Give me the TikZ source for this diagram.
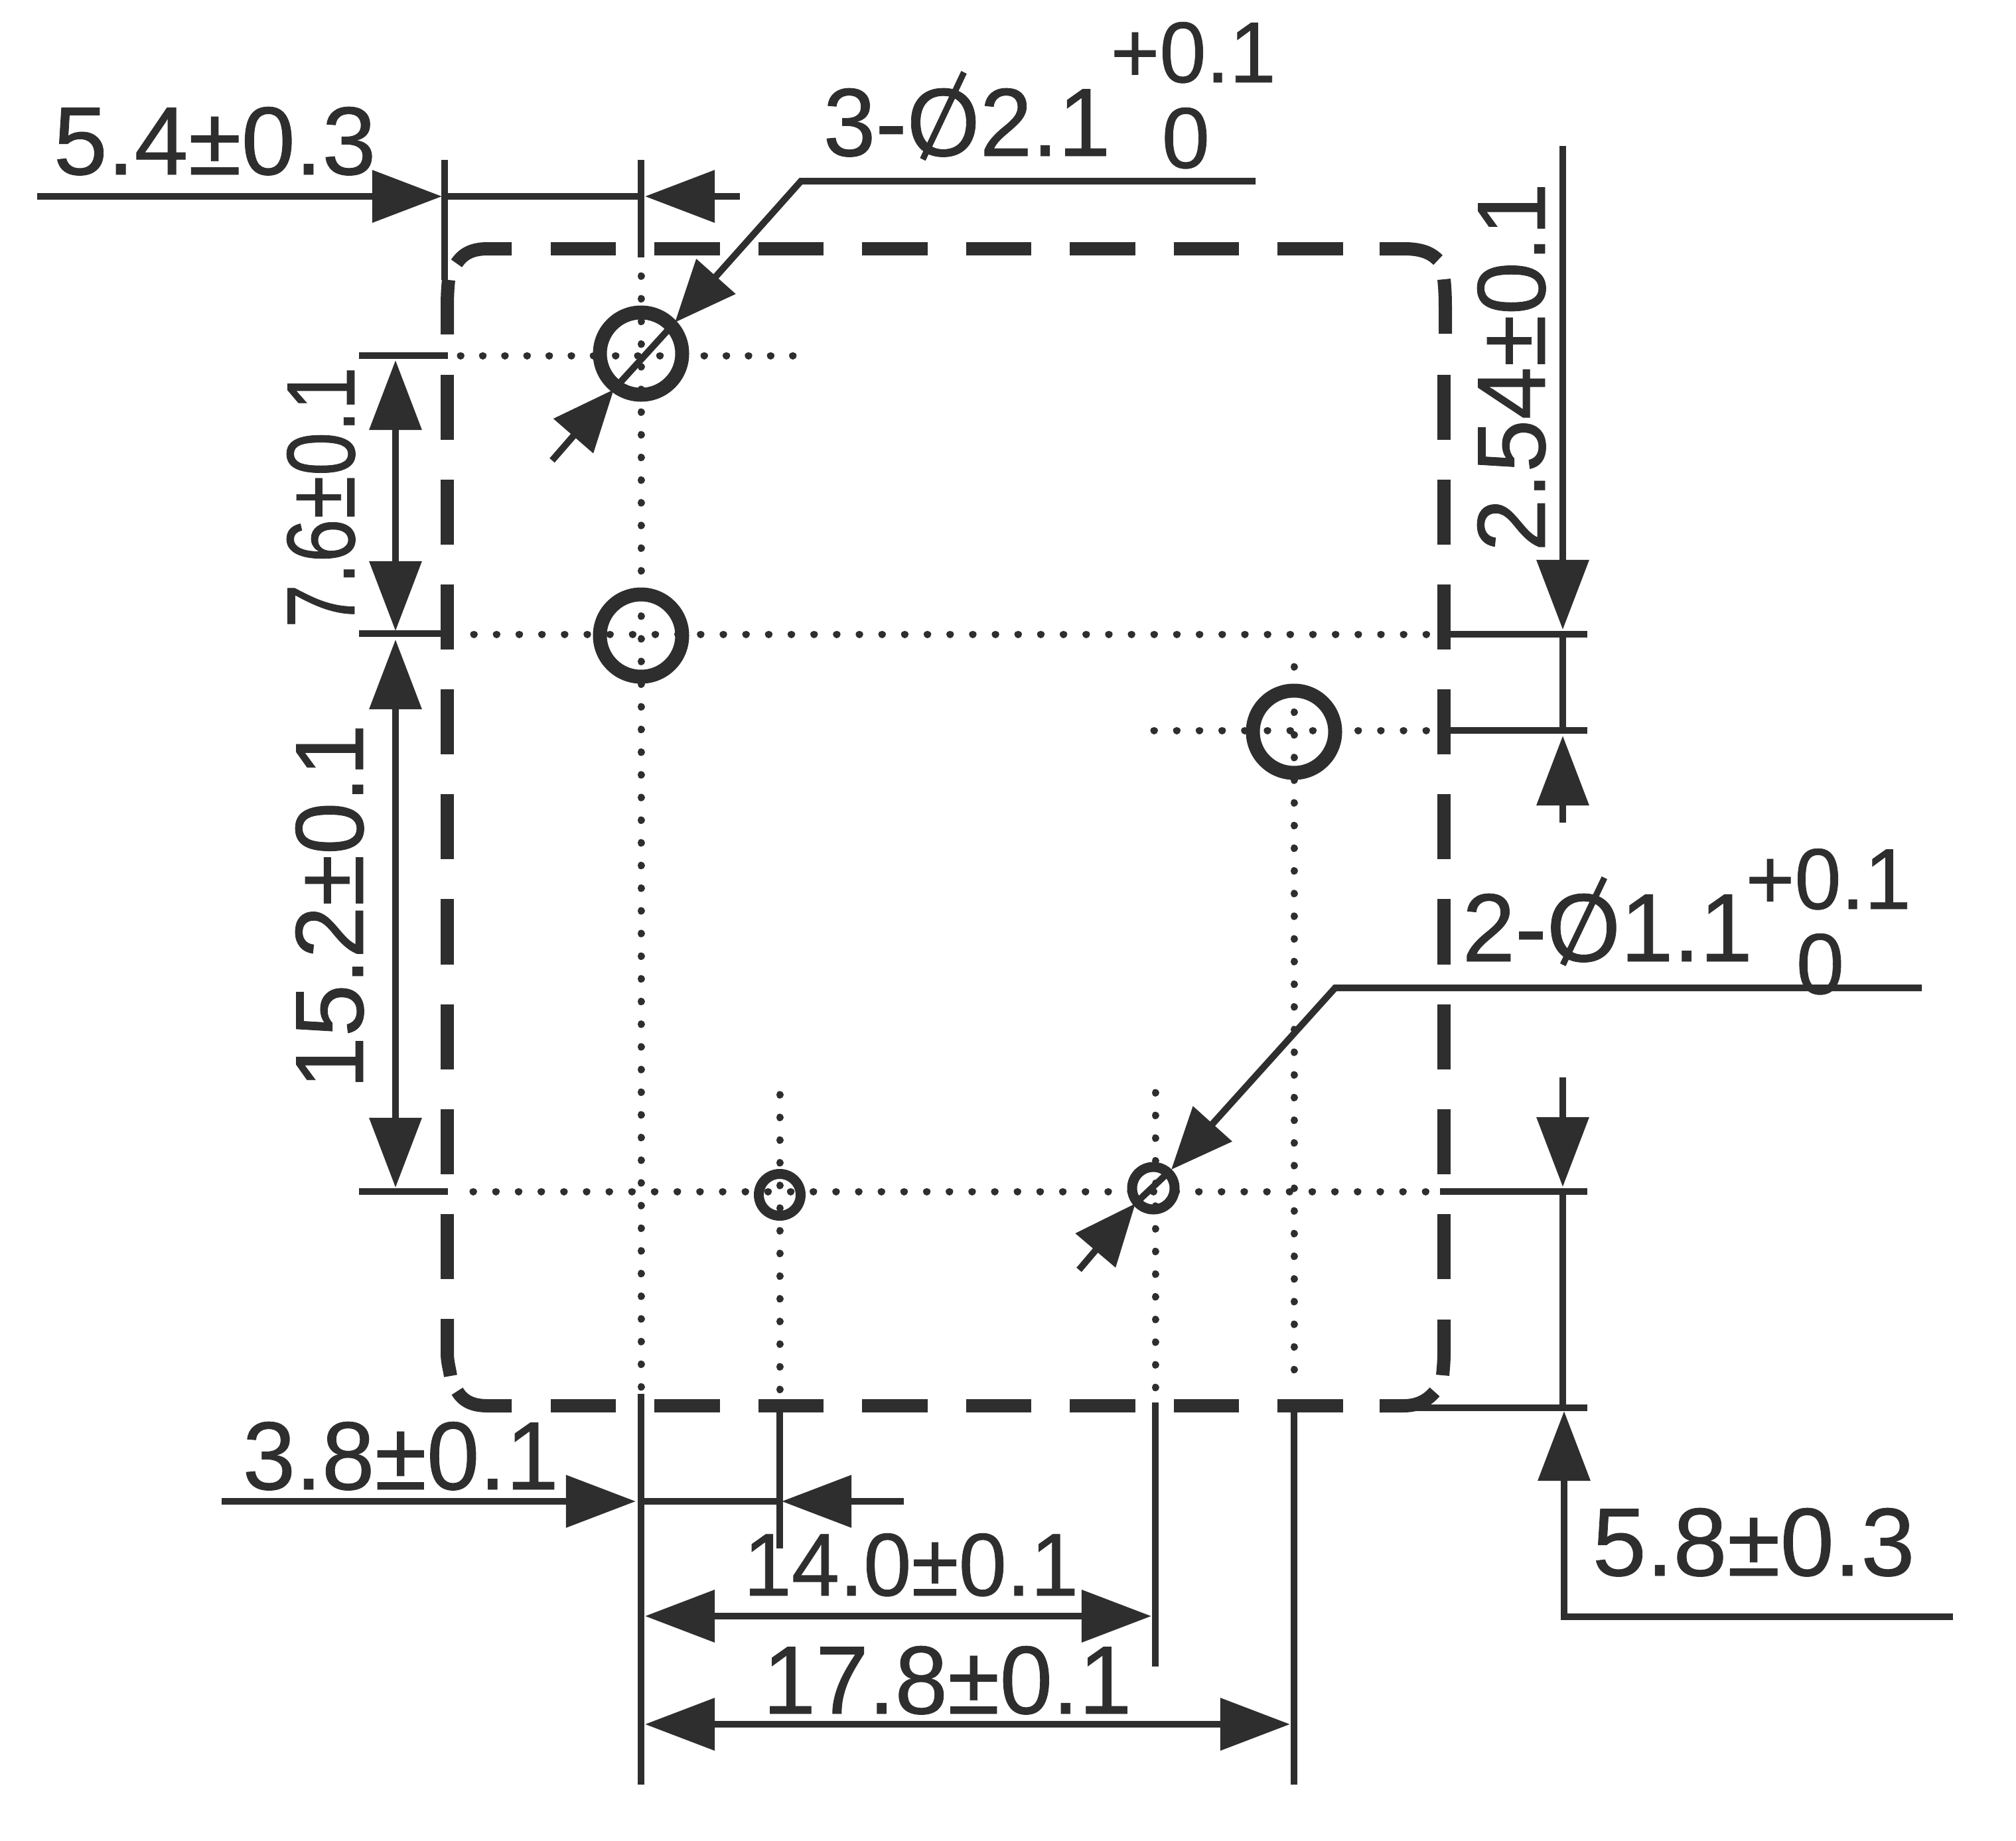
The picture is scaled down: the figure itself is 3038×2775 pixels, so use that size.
\documentclass[tikz,border=0pt]{standalone}
\usepackage{fontspec}
\setmainfont{Liberation Sans}
\usetikzlibrary{arrows.meta}

\colorlet{inkcol}{black!82}
\newcommand{\dia}{\mbox{O\llap{\makebox[.778em]{\raisebox{-.05em}{\rotatebox{64}{\rule{1em}{.065em}}}}}}}

\tikzset{
  thinline/.style={draw=inkcol, line width=1mm},
  boxline/.style={draw=inkcol, line width=2mm},
  boxdash/.style={boxline, dash pattern=on .98cm off .584cm},
  sidedash/.style={boxline, dash pattern=on .98cm off .60cm},
  dotline/.style={draw=inkcol, line width=1.1mm, line cap=round, dash pattern=on .1pt off .338cm},
  hole/.style={draw=inkcol, line width=2.1mm},
  tip/.style={-{Triangle[length=1.05cm, width=.77cm, fill=inkcol]}},
  bitip/.style={{Triangle[length=1.05cm, width=.77cm, fill=inkcol]}-{Triangle[length=1.05cm, width=.77cm, fill=inkcol]}},
  leadtip/.style={-{Triangle[length=.93cm, width=.77cm, fill=inkcol]}},
  lbl/.style={anchor=base west, inner sep=0pt, text=inkcol, font=\fontsize{41.5pt}{48pt}\selectfont\addfontfeature{FakeBold=0.6}},
  sublbl/.style={anchor=base west, inner sep=0pt, text=inkcol, font=\fontsize{37pt}{44pt}\selectfont\addfontfeature{FakeBold=0.6}},
}

\begin{document}
\begin{tikzpicture}[x=.01cm, y=-.01cm]
  \useasboundingbox (0,0) rectangle (3038,2775);

  % Draw the outline, side by side
  \draw[boxdash] (830,375) -- (2060,375);
  \draw[boxdash] (830,2119) -- (2060,2119);
  \draw[sidedash] (674,565) -- (674,1960);
  \draw[sidedash] (2176,565) -- (2176,1960);

  % The four rounded corners
  \draw[boxline] (771,375) -- (735,375) .. controls (712,375) and (698,382) .. (688,397);
  \draw[boxline] (2079,375) -- (2115,375) .. controls (2140,375) and (2155,380) .. (2167,392);
  \draw[boxline] (771,2119) -- (735,2119) .. controls (712,2119) and (698,2112) .. (689,2097);
  \draw[boxline] (2079,2119) -- (2115,2119) .. controls (2135,2119) and (2150,2112) .. (2162,2098);
  \draw[boxline] (676,422) .. controls (674,440) and (674,455) .. (674,470) -- (674,504);
  \draw[boxline] (2176,421) .. controls (2178,440) and (2178,455) .. (2178,470) -- (2178,503);
  \draw[boxline] (674,1988) -- (674,2040) .. controls (674,2052) and (677,2062) .. (679,2074);
  \draw[boxline] (2176,1989) -- (2176,2040) .. controls (2176,2052) and (2175,2062) .. (2174,2073);

  % Draw the centre lines
  \draw[dotline, dash pattern=on .1pt off .33cm] (694,536) -- (1200,536);
  \draw[dotline] (714,956) -- (2165,956);
  \draw[dotline] (1739,1101) -- (2165,1101);
  \draw[dotline] (713,1796) -- (2165,1796);
  \draw[dotline] (966,416) -- (966,2096);
  \draw[dotline] (1175,1650) -- (1175,2096);
  \draw[dotline] (1741,1647) -- (1741,2096);
  \draw[dotline] (1950,1005) -- (1950,2096);

  % Draw the holes
  \draw[hole] (966,533) circle[radius=62];
  \draw[hole] (966,958) circle[radius=62];
  \draw[hole] (1950,1103) circle[radius=62];
  \draw[draw=inkcol, line width=1.5mm] (1175,1801) circle[radius=31.5];
  \draw[draw=inkcol, line width=1.5mm] (1738,1791) circle[radius=32];

  % Extension lines at the top
  \draw[thinline] (670,241) -- (670,422);
  \draw[thinline] (966,241) -- (966,388);
  \draw[thinline] (541,536) -- (675,536);
  \draw[thinline] (541,955) -- (680,955);
  \draw[thinline] (541,1796) -- (675,1796);
  \draw[thinline] (2168,956) -- (2392,956);
  \draw[thinline] (2168,1101) -- (2392,1101);
  \draw[thinline] (2170,1796) -- (2392,1796);
  \draw[thinline] (2110,2122) -- (2392,2122);

  % Extension lines at the bottom
  \draw[thinline] (966,2101) -- (966,2690);
  \draw[thinline] (1175,2119) -- (1175,2334);
  \draw[thinline] (1741,2114) -- (1741,2512);
  \draw[thinline] (1950,2119) -- (1950,2690);

  % Dimension 5.4
  \draw[thinline, tip] (56,296) -- (666,296);
  \draw[thinline] (670,296) -- (966,296);
  \draw[thinline, tip] (1115,296) -- (972,296);
  \node[lbl] (dimA) at (80,263) {5.4±0.3};

  % Dimensions on the left
  \draw[thinline, bitip] (596,543) -- (596,951);
  \draw[thinline, bitip] (596,964) -- (596,1790);
  \node[lbl, rotate=90, xscale=.81] (dimB) at (534,947) {7.6±0.1};
  \node[lbl, rotate=90, xscale=.97] (dimC) at (547,1642) {15.2±0.1};

  % Dimensions on the right
  \draw[thinline, tip] (2355,220) -- (2355,949);
  \draw[thinline] (2355,956) -- (2355,1101);
  \draw[thinline, tip] (2355,1240) -- (2355,1109);
  \draw[thinline, tip] (2355,1624) -- (2355,1789);
  \draw[thinline] (2355,1796) -- (2355,2122);
  \draw[thinline, tip] (2943,2437) -- (2357,2437) -- (2357,2127);
  \node[lbl, rotate=90, xscale=.98] (dimD) at (2328,832) {2.54±0.1};
  \node[lbl] (dimE) at (2399,2375) {5.8±0.3};

  % Dimensions at the bottom
  \draw[thinline, tip] (334,2263) -- (958,2263);
  \draw[thinline] (966,2263) -- (1175,2263);
  \draw[thinline, tip] (1362,2263) -- (1178,2263);
  \draw[thinline, bitip] (972,2436) -- (1735,2436);
  \draw[thinline, bitip] (972,2599) -- (1944,2599);
  \node[lbl, xscale=.98] (dimF) at (365,2245) {3.8±0.1};
  \node[lbl, xscale=.89, yscale=.92] (dimG) at (1120,2405) {14.0±0.1};
  \node[lbl, xscale=.98] (dimH) at (1149,2583) {17.8±0.1};

  % Leader for the large holes
  \draw[thinline, line join=miter, leadtip] (1892,273) -- (1207,273) -- (1017,486);
  \draw[thinline] (1017,486) -- (925,587);
  \draw[thinline, leadtip] (832,694) -- (925,587);
  \node[lbl, xscale=.97] (holeA) at (1240,235) {3-\dia2.1};
  \node[sublbl, xscale=.97] (holeAup) at (1673,124) {+0.1};
  \node[sublbl] (holeAlow) at (1750,253) {0};

  % Leader for the small holes
  \draw[thinline, leadtip] (2896,1489) -- (2012,1489) -- (1765,1763);
  \draw[thinline] (1765,1763) -- (1711,1814);
  \draw[thinline, leadtip] (1626,1914) -- (1711,1814);
  \node[lbl, xscale=.98] (holeB) at (2203,1449) {2-\dia1.1};
  \node[sublbl, xscale=.97] (holeBup) at (2630,1370) {+0.1};
  \node[sublbl] (holeBlow) at (2706,1498) {0};
\end{tikzpicture}
\end{document}
